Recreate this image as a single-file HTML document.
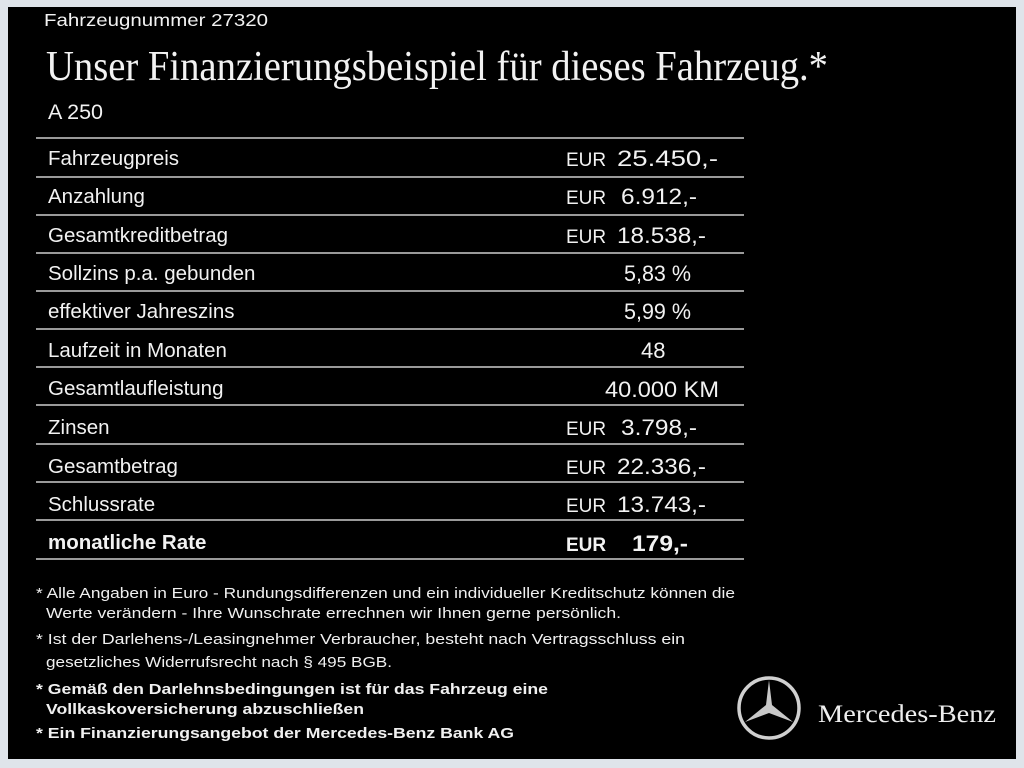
<!DOCTYPE html>
<html><head><meta charset="utf-8"><style>
html,body{margin:0;padding:0;background:#dfe4ea;}
svg{display:block}
</style></head><body>
<svg width="1024" height="768" xmlns="http://www.w3.org/2000/svg">
<rect x="0" y="0" width="1024" height="768" fill="#dfe4ea"/>
<rect x="8" y="7" width="1008" height="752" fill="#000"/>
<g fill="#f2f2f2" font-family="Liberation Sans, sans-serif">
<text x="44" y="26" font-size="17.5" textLength="224" lengthAdjust="spacingAndGlyphs">Fahrzeugnummer  27320</text>
<text x="46" y="80" font-family="Liberation Serif, serif" font-size="42" textLength="782" lengthAdjust="spacingAndGlyphs">Unser Finanzierungsbeispiel für dieses Fahrzeug.*</text>
<text x="48" y="119" font-size="21.5">A 250</text>
</g>
<g stroke="#9a9a9a" stroke-width="2">
<line x1="36" y1="138" x2="744" y2="138"/><line x1="36" y1="177" x2="744" y2="177"/>
<line x1="36" y1="215" x2="744" y2="215"/><line x1="36" y1="253" x2="744" y2="253"/>
<line x1="36" y1="291" x2="744" y2="291"/><line x1="36" y1="329" x2="744" y2="329"/>
<line x1="36" y1="367" x2="744" y2="367"/><line x1="36" y1="405" x2="744" y2="405"/>
<line x1="36" y1="444" x2="744" y2="444"/><line x1="36" y1="482" x2="744" y2="482"/>
<line x1="36" y1="520" x2="744" y2="520"/><line x1="36" y1="559" x2="744" y2="559"/>
</g>
<g fill="#f2f2f2" font-family="Liberation Sans, sans-serif" font-size="20.5">
<text x="48" y="165">Fahrzeugpreis</text>
<text x="48" y="203">Anzahlung</text>
<text x="48" y="242">Gesamtkreditbetrag</text>
<text x="48" y="280">Sollzins p.a. gebunden</text>
<text x="48" y="318">effektiver Jahreszins</text>
<text x="48" y="357">Laufzeit in Monaten</text>
<text x="48" y="395">Gesamtlaufleistung</text>
<text x="48" y="434">Zinsen</text>
<text x="48" y="473">Gesamtbetrag</text>
<text x="48" y="511">Schlussrate</text>
<text x="48" y="549" font-weight="bold">monatliche Rate</text>
<g font-size="19">
<text x="566" y="166">EUR</text><text x="617" y="166" font-size="22" textLength="101" lengthAdjust="spacingAndGlyphs">25.450,-</text>
<text x="566" y="204">EUR</text><text x="621" y="204" font-size="22" textLength="76" lengthAdjust="spacingAndGlyphs">6.912,-</text>
<text x="566" y="243">EUR</text><text x="617" y="243" font-size="22" textLength="89" lengthAdjust="spacingAndGlyphs">18.538,-</text>
<text x="624" y="281" font-size="22" textLength="67" lengthAdjust="spacingAndGlyphs">5,83 %</text>
<text x="624" y="319" font-size="22" textLength="67" lengthAdjust="spacingAndGlyphs">5,99 %</text>
<text x="641" y="358" font-size="22">48</text>
<text x="605" y="397" font-size="22" textLength="114" lengthAdjust="spacingAndGlyphs">40.000 KM</text>
<text x="566" y="435">EUR</text><text x="621" y="435" font-size="22" textLength="76" lengthAdjust="spacingAndGlyphs">3.798,-</text>
<text x="566" y="474">EUR</text><text x="617" y="474" font-size="22" textLength="89" lengthAdjust="spacingAndGlyphs">22.336,-</text>
<text x="566" y="512">EUR</text><text x="617" y="512" font-size="22" textLength="89" lengthAdjust="spacingAndGlyphs">13.743,-</text>
<text x="566" y="551" font-weight="bold">EUR</text><text x="632" y="551" font-size="22" font-weight="bold" textLength="56" lengthAdjust="spacingAndGlyphs">179,-</text>
</g>
</g>
<g fill="#f0f0f0" font-family="Liberation Sans, sans-serif" font-size="15">
<text x="36" y="598" textLength="699" lengthAdjust="spacingAndGlyphs">* Alle Angaben in Euro - Rundungsdifferenzen und ein individueller Kreditschutz können die</text>
<text x="46" y="618" textLength="575" lengthAdjust="spacingAndGlyphs">Werte verändern - Ihre Wunschrate errechnen wir Ihnen gerne persönlich.</text>
<text x="36" y="644" textLength="649" lengthAdjust="spacingAndGlyphs">* Ist der Darlehens-/Leasingnehmer Verbraucher, besteht nach Vertragsschluss ein</text>
<text x="46" y="667" textLength="346" lengthAdjust="spacingAndGlyphs">gesetzliches  Widerrufsrecht nach § 495 BGB.</text>
<g font-weight="bold">
<text x="36" y="694" textLength="512" lengthAdjust="spacingAndGlyphs">* Gemäß den Darlehnsbedingungen ist für das Fahrzeug eine</text>
<text x="46" y="714" textLength="318" lengthAdjust="spacingAndGlyphs">Vollkaskoversicherung abzuschließen</text>
<text x="36" y="738" textLength="478" lengthAdjust="spacingAndGlyphs">* Ein Finanzierungsangebot der Mercedes-Benz Bank AG</text>
</g>
</g>
<g transform="translate(769,708)">
<circle r="30" fill="none" stroke="#d0d0d0" stroke-width="3.5"/>
<polygon points="0,-28 3,-3 24,14 0,5 -24,14 -3,-3" fill="#c8c8c8"/>
</g>
<text x="818" y="722" fill="#eee" font-family="Liberation Serif, serif" font-size="25" textLength="178" lengthAdjust="spacingAndGlyphs">Mercedes-Benz</text>
</svg>
</body></html>
